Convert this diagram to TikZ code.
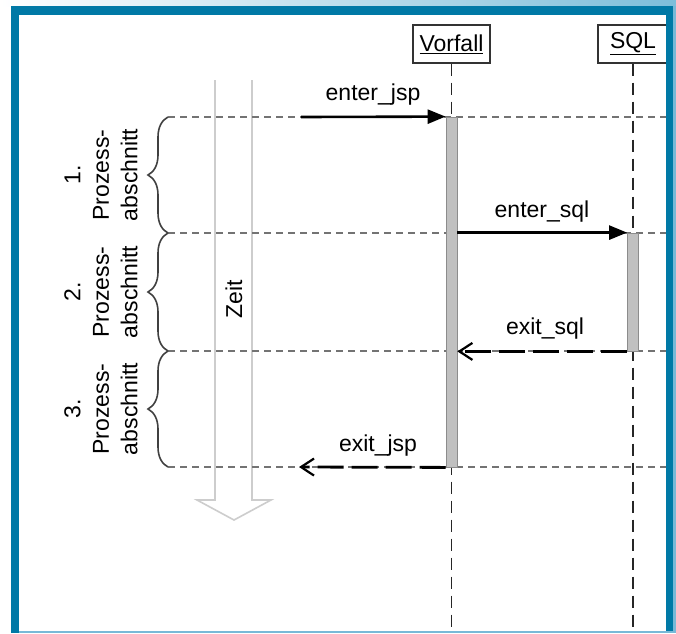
\documentclass[tikz,border=0pt]{standalone}
\usepackage{fontspec}
\setmainfont{Liberation Sans}
\usetikzlibrary{decorations.pathreplacing,arrows.meta}
\definecolor{frameblue}{RGB}{0,121,166}
\definecolor{framelight}{RGB}{120,185,215}
\definecolor{stripblue}{RGB}{125,190,218}
\definecolor{bargray}{RGB}{192,192,192}
\definecolor{zeitgray}{RGB}{205,205,205}
\tikzset{
  px/.style={x=1pt,y=-1pt},
  objbox/.style={draw=black!80,line width=1.4pt,fill=white,minimum height=38pt,inner sep=0pt,font=\fontsize{23}{26}\selectfont},
  lifeline/.style={draw=black!85,line width=1.3pt,dash pattern=on 12pt off 7pt},
  guide/.style={draw=black!55,line width=1.4pt,dash pattern=on 7pt off 5pt},
  actbar/.style={draw=black!45,fill=bargray,line width=0.8pt,minimum width=11pt,inner sep=0pt},
  msg/.style={draw=black,line width=2.6pt,-{Triangle[length=18pt,width=14pt]}},
  ret/.style={draw=black,line width=2.8pt,dash pattern=on 26pt off 8pt,-{Straight Barb[length=13pt,width=17pt,line width=2.2pt]}},
  msglabel/.style={inner sep=0pt,font=\fontsize{23}{26}\selectfont},
  seclabel/.style={rotate=90,align=center,inner sep=0pt,font=\fontsize{23}{28.5}\selectfont},
  bracedeco/.style={draw=black!75,line width=1.6pt,decorate,decoration={brace,amplitude=20pt}},
  zeitarrow/.style={draw=zeitgray,line width=1.6pt,line join=miter}
}
\begin{document}
\begin{tikzpicture}[px]
\useasboundingbox (0,0) rectangle (676,633);
\fill[white] (0,0) rectangle (676,633);

% Zeit arrow
\draw[zeitarrow] (215,80) -- (215,500) -- (197,500) -- (234,520) -- (271,500) -- (252,500) -- (252,80);
\node[rotate=90,msglabel] (zeit) at (234,299) {Zeit};

% guide lines
\coordinate (g1l) at (168,117); \coordinate (g1r) at (668,117);
\coordinate (g2l) at (168,233); \coordinate (g2r) at (668,233);
\coordinate (g3l) at (168,351); \coordinate (g3r) at (668,351);
\coordinate (g4l) at (168,467); \coordinate (g4r) at (668,467);
\draw[guide] (g1l) -- (g1r);
\draw[guide] (g2l) -- (g2r);
\draw[guide] (g3l) -- (g3r);
\draw[guide] (g4l) -- (g4r);

% braces
\draw[bracedeco] (g2l) -- (g1l);
\draw[bracedeco] (g3l) -- (g2l);
\draw[bracedeco] (g4l) -- (g3l);

% section labels
\node[seclabel] (s1) at (101,175) {1.\\Prozess-\\abschnitt};
\node[seclabel] (s2) at (101,292) {2.\\Prozess-\\abschnitt};
\node[seclabel] (s3) at (101,409) {3.\\Prozess-\\abschnitt};

% objects and lifelines
\node[objbox,minimum width=77pt] (vorfall) at (451.5,44) {\underline{Vorfall}};
\node[objbox,minimum width=70pt] (sql) at (633,44) {\underline{SQL}};
\coordinate (vend) at (451.5,633);
\coordinate (send) at (633,633);
\draw[lifeline] (vorfall.south) -- (vend);
\draw[lifeline] (sql.south) -- (send);

% activation bars
\node[actbar,minimum height=350pt] (vbar) at (451.5,292) {};
\node[actbar,minimum height=118pt] (sbar) at (633,292) {};

% messages
\coordinate (jspstart) at (301,117);
\coordinate (jspend) at (299,467);
\draw[msg] (jspstart) -- (vbar.north west);
\node[msglabel] (l1) at (373,95) {enter\_jsp};
\draw[msg] (vbar.east |- sbar.north) -- (sbar.north west);
\node[msglabel] (l2) at (542,212) {enter\_sql};
\draw[ret] (sbar.south west) -- (vbar.east |- sbar.south);
\node[msglabel] (l3) at (545,329) {exit\_sql};
\draw[ret] (vbar.south west) -- (jspend);
\node[msglabel] (l4) at (378,446) {exit\_jsp};

% frame
\shade[left color=white,right color=stripblue] (0,0) rectangle (676,6);
\fill[frameblue] (11,6) rectangle (676,15);
\fill[frameblue] (11,6) rectangle (19,633);
\fill[frameblue] (666,6) rectangle (673,633);
\fill[framelight] (673,6) rectangle (676,633);
\fill[framelight] (19,631) rectangle (673,633);
\end{tikzpicture}
\end{document}
